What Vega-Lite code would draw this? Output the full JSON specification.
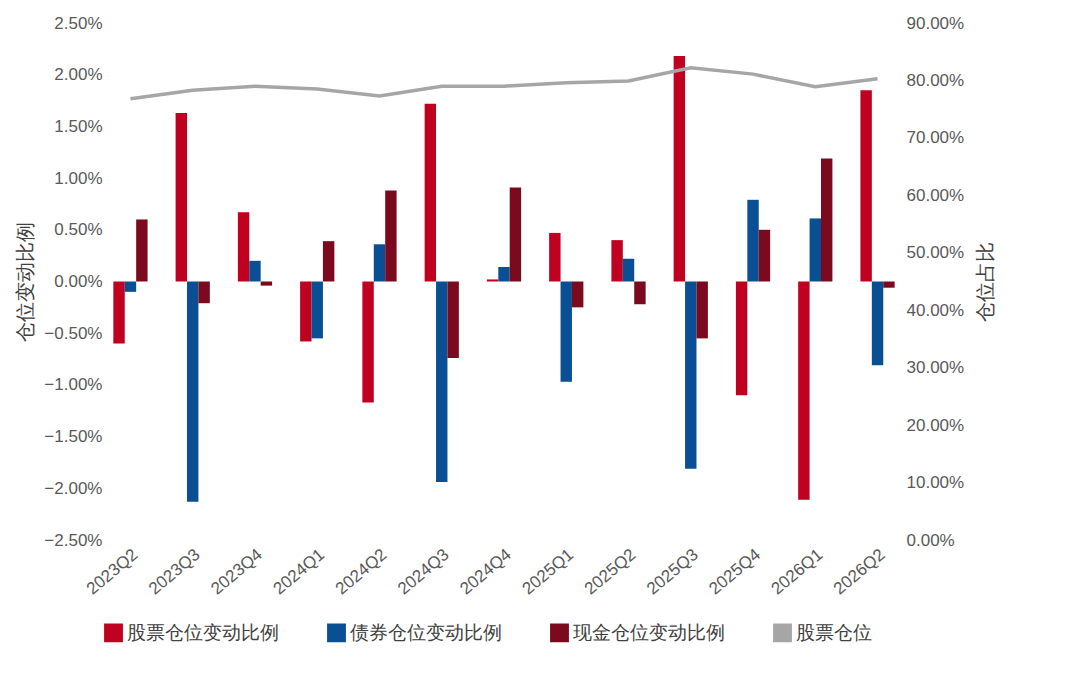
{
  "$schema": "https://vega.github.io/schema/vega-lite/v6.json",
  "width": 800,
  "height": 517,
  "padding": {"left": 15, "top": 14, "right": 10, "bottom": 5},
  "background": "white",
  "config": {
    "view": {"stroke": null},
    "font": "Liberation Sans",
    "axis": {"labelFontSize": 17, "labelColor": "#595959", "titleFontSize": 20, "titleFontWeight": "normal", "titleColor": "#404040", "grid": false, "domain": false, "ticks": false, "labelOverlap": false}
  },
  "data": {"values": [
    {"q":"2023Q2","s":"股票仓位变动比例","v":-0.0060},{"q":"2023Q2","s":"债券仓位变动比例","v":-0.0010},{"q":"2023Q2","s":"现金仓位变动比例","v":0.0060},{"q":"2023Q2","s":"股票仓位","v":0.768},
    {"q":"2023Q3","s":"股票仓位变动比例","v":0.0163},{"q":"2023Q3","s":"债券仓位变动比例","v":-0.0213},{"q":"2023Q3","s":"现金仓位变动比例","v":-0.0021},{"q":"2023Q3","s":"股票仓位","v":0.783},
    {"q":"2023Q4","s":"股票仓位变动比例","v":0.0067},{"q":"2023Q4","s":"债券仓位变动比例","v":0.0020},{"q":"2023Q4","s":"现金仓位变动比例","v":-0.0004},{"q":"2023Q4","s":"股票仓位","v":0.790},
    {"q":"2024Q1","s":"股票仓位变动比例","v":-0.0058},{"q":"2024Q1","s":"债券仓位变动比例","v":-0.0055},{"q":"2024Q1","s":"现金仓位变动比例","v":0.0039},{"q":"2024Q1","s":"股票仓位","v":0.785},
    {"q":"2024Q2","s":"股票仓位变动比例","v":-0.0117},{"q":"2024Q2","s":"债券仓位变动比例","v":0.0036},{"q":"2024Q2","s":"现金仓位变动比例","v":0.0088},{"q":"2024Q2","s":"股票仓位","v":0.773},
    {"q":"2024Q3","s":"股票仓位变动比例","v":0.0172},{"q":"2024Q3","s":"债券仓位变动比例","v":-0.0194},{"q":"2024Q3","s":"现金仓位变动比例","v":-0.0074},{"q":"2024Q3","s":"股票仓位","v":0.790},
    {"q":"2024Q4","s":"股票仓位变动比例","v":0.0002},{"q":"2024Q4","s":"债券仓位变动比例","v":0.0014},{"q":"2024Q4","s":"现金仓位变动比例","v":0.0091},{"q":"2024Q4","s":"股票仓位","v":0.790},
    {"q":"2025Q1","s":"股票仓位变动比例","v":0.0047},{"q":"2025Q1","s":"债券仓位变动比例","v":-0.0097},{"q":"2025Q1","s":"现金仓位变动比例","v":-0.0025},{"q":"2025Q1","s":"股票仓位","v":0.796},
    {"q":"2025Q2","s":"股票仓位变动比例","v":0.0040},{"q":"2025Q2","s":"债券仓位变动比例","v":0.0022},{"q":"2025Q2","s":"现金仓位变动比例","v":-0.0022},{"q":"2025Q2","s":"股票仓位","v":0.799},
    {"q":"2025Q3","s":"股票仓位变动比例","v":0.0218},{"q":"2025Q3","s":"债券仓位变动比例","v":-0.0181},{"q":"2025Q3","s":"现金仓位变动比例","v":-0.0055},{"q":"2025Q3","s":"股票仓位","v":0.822},
    {"q":"2025Q4","s":"股票仓位变动比例","v":-0.0110},{"q":"2025Q4","s":"债券仓位变动比例","v":0.0079},{"q":"2025Q4","s":"现金仓位变动比例","v":0.0050},{"q":"2025Q4","s":"股票仓位","v":0.811},
    {"q":"2026Q1","s":"股票仓位变动比例","v":-0.0211},{"q":"2026Q1","s":"债券仓位变动比例","v":0.0061},{"q":"2026Q1","s":"现金仓位变动比例","v":0.0119},{"q":"2026Q1","s":"股票仓位","v":0.789},
    {"q":"2026Q2","s":"股票仓位变动比例","v":0.0185},{"q":"2026Q2","s":"债券仓位变动比例","v":-0.0081},{"q":"2026Q2","s":"现金仓位变动比例","v":-0.0006},{"q":"2026Q2","s":"股票仓位","v":0.803}
  ]},
  "encoding": {
    "x": {"field": "q", "type": "nominal", "title": null, "sort": null,
      "scale": {"paddingInner": 0.45, "paddingOuter": 0.15},
      "axis": {"labelAngle": -40, "labelPadding": 6}},
    "color": {"field": "s", "type": "nominal", "title": null,
      "scale": {"domain": ["股票仓位变动比例","债券仓位变动比例","现金仓位变动比例","股票仓位"], "range": ["#C00020","#0A4F94","#7B0A1E","#A6A6A6"]},
      "legend": {"orient": "bottom", "direction": "horizontal", "labelFontSize": 19, "labelColor": "#404040", "symbolType": "square", "symbolSize": 300, "columnPadding": 45, "offset": 25, "labelLimit": 300}}
  },
  "layer": [
    {
      "transform": [{"filter": "datum.s !== '股票仓位'"}],
      "mark": {"type": "bar"},
      "encoding": {
        "xOffset": {"field": "s", "sort": ["股票仓位变动比例","债券仓位变动比例","现金仓位变动比例"]},
        "y": {"field": "v", "type": "quantitative", "title": "仓位变动比例",
          "scale": {"domain": [-0.025, 0.025]},
          "axis": {"format": ".2%", "values": [-0.025,-0.02,-0.015,-0.01,-0.005,0,0.005,0.01,0.015,0.02,0.025], "titlePadding": 8}}
      }
    },
    {
      "transform": [{"filter": "datum.s === '股票仓位'"}],
      "mark": {"type": "line", "strokeWidth": 3.5},
      "encoding": {
        "y": {"field": "v", "type": "quantitative", "title": "仓位占比",
          "scale": {"domain": [0, 0.9]},
          "axis": {"orient": "right", "format": ".2%", "values": [0,0.1,0.2,0.3,0.4,0.5,0.6,0.7,0.8,0.9], "titlePadding": 12, "titleAngle": 270, "titleBaseline": "top"}}
      }
    }
  ],
  "resolve": {"scale": {"y": "independent"}}
}
